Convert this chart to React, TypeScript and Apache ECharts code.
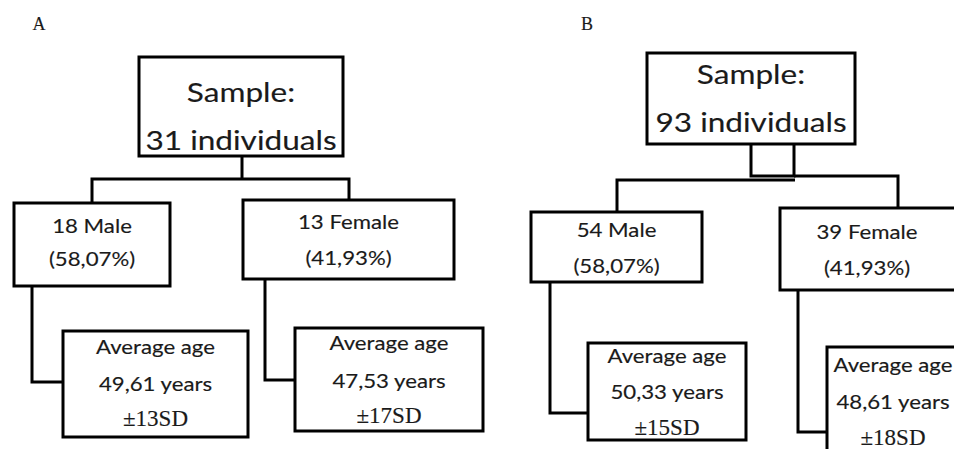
import React, { useEffect, useRef } from "react";
import * as echarts from "echarts";

// ---- Content (texts of the two flowcharts) ----
const panelLabels = ["A", "B"];
const sampleTitle = "Sample:";
const sampleCounts = ["31 individuals", "93 individuals"];
const maleCounts = ["18 Male", "54 Male"];
const malePercents = ["(58,07%)", "(58,07%)"];
const femaleCounts = ["13 Female", "39 Female"];
const femalePercents = ["(41,93%)", "(41,93%)"];
const ageTitle = "Average age";
const maleAges = ["49,61 years", "50,33 years"];
const maleSDs = ["±13SD", "±15SD"];
const femaleAges = ["47,53 years", "48,61 years"];
const femaleSDs = ["±17SD", "±18SD"];

// ---- Layout (positions only) ----
type Box = [number, number, number, number];
interface PanelLayout {
  label: [number, number];
  sample: Box;
  sampleY: [number, number];
  male: Box;
  maleY: [number, number];
  female: Box;
  femaleY: [number, number];
  femaleCx?: number;
  maleAge: Box;
  maleAgeY: [number, number, number];
  femaleAge: Box;
  femaleAgeY: [number, number, number];
  femaleAgeCx?: number;
  links: number[][][];
}

const layouts: PanelLayout[] = [
  {
    label: [39, 24],
    sample: [139, 57, 204, 99],
    sampleY: [91, 139],
    male: [14, 203, 156, 83],
    maleY: [226, 259],
    female: [243, 200, 211, 79],
    femaleY: [222, 258],
    maleAge: [63, 331, 185, 106],
    maleAgeY: [347, 384, 418],
    femaleAge: [295, 328, 188, 103],
    femaleAgeY: [343, 381, 415],
    links: [
      [[242, 156], [242, 178]],
      [[92, 203], [92, 179], [349, 179], [349, 200]],
      [[32, 286], [32, 382], [63, 382]],
      [[265, 279], [265, 380], [295, 380]],
    ],
  },
  {
    label: [587, 24],
    sample: [647, 53, 208, 91],
    sampleY: [73, 121],
    male: [531, 212, 171, 70],
    maleY: [230, 266],
    female: [780, 208, 180, 82],
    femaleY: [232, 268],
    femaleCx: 867,
    maleAge: [588, 343, 158, 97],
    maleAgeY: [356, 392, 427],
    femaleAge: [827, 347, 140, 120],
    femaleAgeY: [365, 402, 437],
    femaleAgeCx: 893,
    links: [
      [[751, 144], [751, 176], [794, 176], [794, 144]],
      [[617, 212], [617, 180], [795, 180]],
      [[794, 176], [898, 176], [898, 208]],
      [[550, 282], [550, 413], [588, 413]],
      [[798, 290], [798, 432], [827, 432]],
    ],
  },
];

const SANS = "Lato, 'Noto Sans', sans-serif";
const SERIF = "'Liberation Serif', 'DejaVu Serif', serif";
const INK = "#1a1a1a";

function rect(b: Box) {
  return {
    type: "rect",
    shape: { x: b[0], y: b[1], width: b[2], height: b[3] },
    style: { fill: "#fff", stroke: "#000", lineWidth: 3 },
    z: 2,
  };
}

function txt(cx: number, cy: number, text: string, size: number, family: string, sx = 1) {
  return {
    type: "text",
    x: cx,
    y: cy,
    scaleX: sx,
    z: 3,
    style: {
      text,
      fontSize: size,
      fontFamily: family,
      fill: INK,
      stroke: INK,
      lineWidth: 0.15,
      align: "center",
      verticalAlign: "middle",
    },
  };
}

function buildPanel(i: number, L: PanelLayout) {
  const els: any[] = [];
  L.links.forEach((pts) =>
    els.push({
      type: "polyline",
      shape: { points: pts },
      style: { stroke: "#000", lineWidth: 3, fill: "none", lineJoin: "miter" },
      z: 1,
    })
  );
  els.push(txt(L.label[0], L.label[1], panelLabels[i], 18, SERIF));

  const cx = (b: Box) => b[0] + b[2] / 2;

  els.push(rect(L.sample));
  els.push(txt(cx(L.sample), L.sampleY[0], sampleTitle, 27, SANS, 1.17));
  els.push(txt(cx(L.sample), L.sampleY[1], sampleCounts[i], 27, SANS, 1.17));

  els.push(rect(L.male));
  els.push(txt(cx(L.male), L.maleY[0], maleCounts[i], 19, SANS, 1.17));
  els.push(txt(cx(L.male), L.maleY[1], malePercents[i], 19, SANS, 1.17));

  els.push(rect(L.female));
  const fcx = L.femaleCx ?? cx(L.female);
  els.push(txt(fcx, L.femaleY[0], femaleCounts[i], 19, SANS, 1.17));
  els.push(txt(fcx, L.femaleY[1], femalePercents[i], 19, SANS, 1.17));

  els.push(rect(L.maleAge));
  els.push(txt(cx(L.maleAge), L.maleAgeY[0], ageTitle, 19, SANS, 1.17));
  els.push(txt(cx(L.maleAge), L.maleAgeY[1], maleAges[i], 19, SANS, 1.17));
  els.push(txt(cx(L.maleAge), L.maleAgeY[2], maleSDs[i], 23, SERIF));

  els.push(rect(L.femaleAge));
  const facx = L.femaleAgeCx ?? cx(L.femaleAge);
  els.push(txt(facx, L.femaleAgeY[0], ageTitle, 19, SANS, 1.17));
  els.push(txt(facx, L.femaleAgeY[1], femaleAges[i], 19, SANS, 1.17));
  els.push(txt(facx, L.femaleAgeY[2], femaleSDs[i], 23, SERIF));
  return els;
}

export default function App() {
  const ref = useRef<HTMLDivElement>(null);
  useEffect(() => {
    document.body.style.margin = "0";
    if (!ref.current) return;
    const chart = echarts.init(ref.current, undefined, { renderer: "svg" });
    const elements = layouts.flatMap((L, i) => buildPanel(i, L));
    chart.setOption({
      animation: false,
      backgroundColor: "#ffffff",
      graphic: { elements },
    });
    return () => chart.dispose();
  }, []);
  return <div ref={ref} style={{ width: 954, height: 449 }} />;
}
